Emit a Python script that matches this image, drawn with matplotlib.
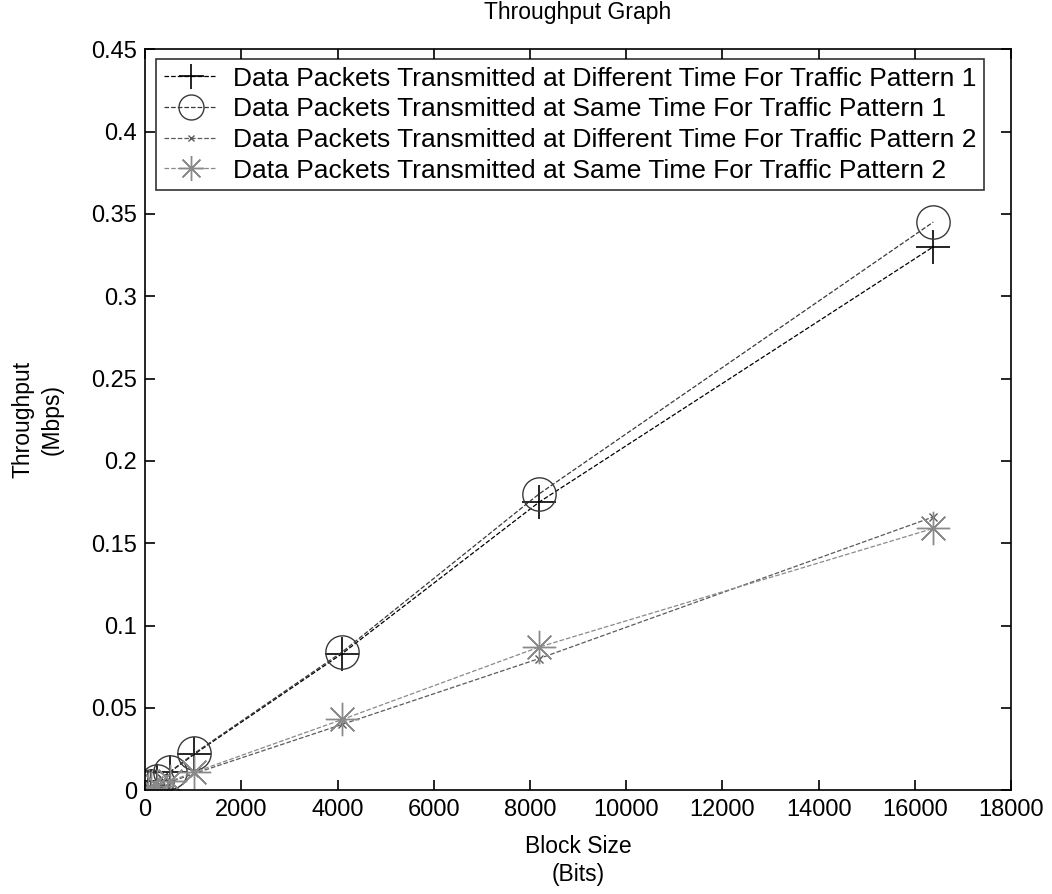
import numpy as np
import matplotlib
matplotlib.use("Agg")
import matplotlib.pyplot as plt

plt.rcParams['font.family'] = ['Liberation Sans', 'DejaVu Sans']

# data
block_size = [64, 128, 256, 512, 1024, 4096, 8192, 16384]
diff_time_p1 = [0.0013, 0.0027, 0.0055, 0.011, 0.022, 0.083, 0.175, 0.330]
same_time_p1 = [0.0014, 0.0028, 0.0056, 0.0112, 0.0225, 0.084, 0.180, 0.345]
diff_time_p2 = [0.0006, 0.0013, 0.0026, 0.005, 0.0102, 0.040, 0.080, 0.166]
same_time_p2 = [0.0007, 0.0014, 0.0028, 0.0055, 0.011, 0.043, 0.087, 0.159]

labels = [
    "Data Packets Transmitted at Different Time For Traffic Pattern 1",
    "Data Packets Transmitted at Same Time For Traffic Pattern 1",
    "Data Packets Transmitted at Different Time For Traffic Pattern 2",
    "Data Packets Transmitted at Same Time For Traffic Pattern 2",
]

fig = plt.figure(figsize=(10.52, 8.94), dpi=100)
ax = fig.add_axes([0.138, 0.116, 0.823, 0.829])

asterisk = (8, 2, 0)
ax.plot(block_size, diff_time_p1, linestyle='--', color='black', marker='+',
        markersize=24, markeredgewidth=1.2, linewidth=0.9, label=labels[0])
ax.plot(block_size, same_time_p1, linestyle='--', color='#3a3a3a', marker='o',
        markersize=24, markerfacecolor='none', markeredgewidth=1.0,
        linewidth=0.9, label=labels[1])
ax.plot(block_size, diff_time_p2, linestyle='--', color='#5a5a5a', marker='x',
        markersize=6, markeredgewidth=1.0, linewidth=0.9, label=labels[2])
ax.plot(block_size, same_time_p2, linestyle='--', color='#8a8a8a', marker=asterisk,
        markersize=24, markeredgewidth=1.0, linewidth=0.9, label=labels[3])

ax.set_xlim(0, 18000)
ax.set_ylim(0, 0.45)
ax.set_xticks(np.arange(0, 18001, 2000))
ax.set_yticks(np.arange(0, 0.451, 0.05))
ax.set_yticklabels(['0', '0.05', '0.1', '0.15', '0.2', '0.25', '0.3', '0.35', '0.4', '0.45'])
ax.tick_params(direction='in', top=True, right=True, length=7, width=1.2,
               labelsize=17, pad=6)
for s in ax.spines.values():
    s.set_linewidth(1.2)

ax.set_title("Throughput Graph", fontsize=16.5, pad=22)
ax.set_xlabel("Block Size\n(Bits)", fontsize=16.5, linespacing=1.3, labelpad=10)
ax.set_ylabel("Throughput\n(Mbps)", fontsize=16.5, linespacing=1.3, labelpad=20)

leg = ax.legend(loc='upper left', bbox_to_anchor=(0.013, 0.987), fontsize=19,
                frameon=True, fancybox=False, edgecolor='black',
                handlelength=2.0, handletextpad=0.6, labelspacing=0.25,
                borderpad=0.3, borderaxespad=0, markerscale=0.75)
leg.get_frame().set_linewidth(1.2)

fig.savefig("out.png", dpi=100)
